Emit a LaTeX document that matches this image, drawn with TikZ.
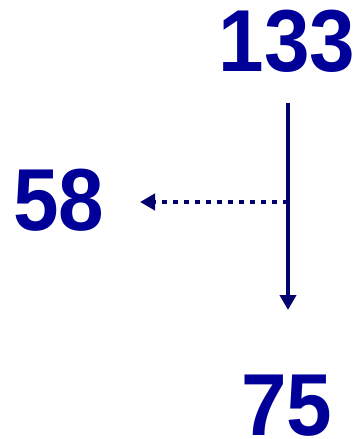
\documentclass[tikz,border=0pt]{standalone}
\usepackage{fontspec}
\setmainfont[FakeStretch=0.93]{Liberation Sans}
\usetikzlibrary{arrows.meta}
\definecolor{numblue}{RGB}{0,0,153}
\definecolor{arrowblue}{RGB}{0,0,110}
\tikzset{
  num/.style={inner sep=0pt, anchor=base, text depth=0pt, text=numblue, font=\fontsize{88}{88}\selectfont\bfseries},
  conn/.style={draw=arrowblue, line width=4pt, -{Triangle[length=15pt,width=16pt]}},
  dotconn/.style={conn, dash pattern=on 5pt off 6pt}
}
\begin{document}
\begin{tikzpicture}[x=1pt,y=-1pt]
\useasboundingbox (0,0) rectangle (359,439);
\node[num] (n133) at (287,71) {133};
\node[num] (n58) at (59,230) {58};
\node[num] (n75) at (287,435) {75};
\coordinate (vtop) at (288,103);
\coordinate (vtip) at (288,310);
\coordinate (vmid) at (288,202);
\coordinate (ltip) at (140,202);
\draw[conn] (vtop) -- (vtip);
\draw[dotconn] (vmid) -- (ltip);
\end{tikzpicture}
\end{document}
